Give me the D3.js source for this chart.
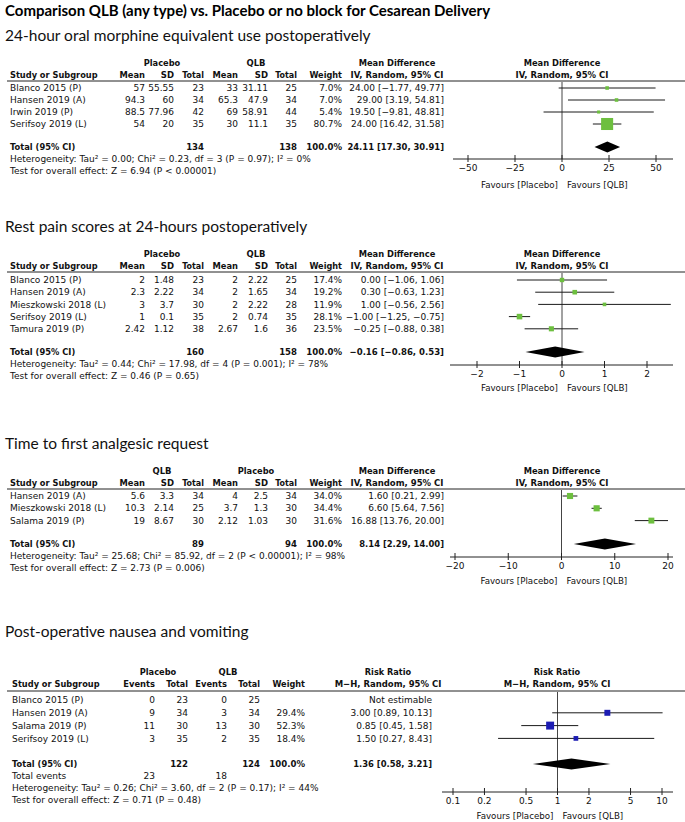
<!DOCTYPE html>
<html><head><meta charset="utf-8">
<script src="https://cdn.jsdelivr.net/npm/d3@7/dist/d3.min.js"></script>
<style>body{margin:0;background:#fff}svg{display:block}</style>
</head><body>
<script>
// ---------------- DATA ----------------
const mainTitle = "Comparison QLB (any type) vs. Placebo or no block for Cesarean Delivery";

// Panel 1: 24-hour oral morphine equivalent use
const p1Title = "24-hour oral morphine equivalent use postoperatively";
const p1Groups = ["Placebo", "QLB"];
const p1Studies = ["Blanco 2015 (P)", "Hansen 2019 (A)", "Irwin 2019 (P)", "Serifsoy 2019 (L)"];
const p1G1Mean = ["57", "94.3", "88.5", "54"];
const p1G1SD = ["55.55", "60", "77.96", "20"];
const p1G1N = [23, 34, 42, 35];
const p1G2Mean = ["33", "65.3", "69", "30"];
const p1G2SD = ["31.11", "47.9", "58.91", "11.1"];
const p1G2N = [25, 34, 44, 35];
const p1Weight = [7.0, 7.0, 5.4, 80.7];
const p1Est = [24.00, 29.00, 19.50, 24.00];
const p1Lo = [-1.77, 3.19, -9.81, 16.42];
const p1Hi = [49.77, 54.81, 48.81, 31.58];
const p1Total = [24.11, 17.30, 30.91];
const p1TotalN = [134, 138];
const p1Ticks = [-50, -25, 0, 25, 50];
const p1Het = ["Heterogeneity: Tau² = 0.00; Chi² = 0.23, df = 3 (P = 0.97); I² = 0%",
               "Test for overall effect: Z = 6.94 (P < 0.00001)"];

// Panel 2: rest pain scores
const p2Title = "Rest pain scores at 24-hours postoperatively";
const p2Groups = ["Placebo", "QLB"];
const p2Studies = ["Blanco 2015 (P)", "Hansen 2019 (A)", "Mieszkowski 2018 (L)", "Serifsoy 2019 (L)", "Tamura 2019 (P)"];
const p2G1Mean = ["2", "2.3", "3", "1", "2.42"];
const p2G1SD = ["1.48", "2.22", "3.7", "0.1", "1.12"];
const p2G1N = [23, 34, 30, 35, 38];
const p2G2Mean = ["2", "2", "2", "2", "2.67"];
const p2G2SD = ["2.22", "1.65", "2.22", "0.74", "1.6"];
const p2G2N = [25, 34, 28, 35, 36];
const p2Weight = [17.4, 19.2, 11.9, 28.1, 23.5];
const p2Est = [0.00, 0.30, 1.00, -1.00, -0.25];
const p2Lo = [-1.06, -0.63, -0.56, -1.25, -0.88];
const p2Hi = [1.06, 1.23, 2.56, -0.75, 0.38];
const p2Total = [-0.16, -0.86, 0.53];
const p2TotalN = [160, 158];
const p2Ticks = [-2, -1, 0, 1, 2];
const p2Het = ["Heterogeneity: Tau² = 0.44; Chi² = 17.98, df = 4 (P = 0.001); I² = 78%",
               "Test for overall effect: Z = 0.46 (P = 0.65)"];

// Panel 3: time to first analgesic request
const p3Title = "Time to first analgesic request";
const p3Groups = ["QLB", "Placebo"];
const p3Studies = ["Hansen 2019 (A)", "Mieszkowski 2018 (L)", "Salama 2019 (P)"];
const p3G1Mean = ["5.6", "10.3", "19"];
const p3G1SD = ["3.3", "2.14", "8.67"];
const p3G1N = [34, 25, 30];
const p3G2Mean = ["4", "3.7", "2.12"];
const p3G2SD = ["2.5", "1.3", "1.03"];
const p3G2N = [34, 30, 30];
const p3Weight = [34.0, 34.4, 31.6];
const p3Est = [1.60, 6.60, 16.88];
const p3Lo = [0.21, 5.64, 13.76];
const p3Hi = [2.99, 7.56, 20.00];
const p3Total = [8.14, 2.29, 14.00];
const p3TotalN = [89, 94];
const p3Ticks = [-20, -10, 0, 10, 20];
const p3Het = ["Heterogeneity: Tau² = 25.68; Chi² = 85.92, df = 2 (P < 0.00001); I² = 98%",
               "Test for overall effect: Z = 2.73 (P = 0.006)"];

// Panel 4: PONV
const p4Title = "Post-operative nausea and vomiting";
const p4Groups = ["Placebo", "QLB"];
const p4Studies = ["Blanco 2015 (P)", "Hansen 2019 (A)", "Salama 2019 (P)", "Serifsoy 2019 (L)"];
const p4G1Events = [0, 9, 11, 3];
const p4G1N = [23, 34, 30, 35];
const p4G2Events = [0, 3, 13, 2];
const p4G2N = [25, 34, 30, 35];
const p4Weight = [null, 29.4, 52.3, 18.4];
const p4Est = [null, 3.00, 0.85, 1.50];
const p4Lo = [null, 0.89, 0.45, 0.27];
const p4Hi = [null, 10.13, 1.58, 8.43];
const p4Total = [1.36, 0.58, 3.21];
const p4TotalN = [122, 124];
const p4TotalEvents = [23, 18];
const p4Ticks = [0.1, 0.2, 0.5, 1, 2, 5, 10];
const p4Het = ["Heterogeneity: Tau² = 0.26; Chi² = 3.60, df = 2 (P = 0.17); I² = 44%",
               "Test for overall effect: Z = 0.71 (P = 0.48)"];

// ---------------- DRAWING ----------------
const W = 685, H = 822;
const TF = "'DejaVu Sans', 'Lucida Grande', sans-serif";
const HF = "Lato, Calibri, 'Open Sans', sans-serif";
const FS = 9;
const GREEN = "#6dbf3f", BLUE = "#1c1cb3";

const svg = d3.select("body").append("svg").attr("width", W).attr("height", H);
svg.append("rect").attr("width", W).attr("height", H).attr("fill", "#fff");

const minus = s => s.replace(/-/g, "\u2212");
const f2 = v => minus(v.toFixed(2));
const ci = (e, l, h) => `${f2(e)} [${f2(l)}, ${f2(h)}]`;

function txt(g, x, y, s, opt = {}) {
  const t = g.append("text").attr("x", x).attr("y", y).attr("dy", "0.35em")
    .attr("font-family", opt.font || TF).attr("font-size", opt.size || FS)
    .attr("font-weight", "normal")
    .attr("text-anchor", opt.anchor || "start").attr("fill", "#111").text(s);
  if (opt.bold) {
    // Lucida-like bold: keep close to regular advance width
    const w = t.node().getComputedTextLength();
    t.attr("font-weight", "bold").attr("textLength", w * 1.04).attr("lengthAdjust", "spacingAndGlyphs");
  }
  return t;
}

svg.append("text").attr("x", 5).attr("y", 11).attr("dy", "0.35em")
  .attr("font-family", HF).attr("font-size", 15).attr("font-weight", "bold")
  .attr("fill", "#000").text(mainTitle);

function panel(c) {
  const g = svg.append("g");
  const L = c.lay;
  txt(g, 5, L.title, c.title, {font: HF, size: 15.5});
  const col = c.cols;
  txt(g, col.g1c, L.h1, c.groups[0], {bold: true, anchor: "middle"});
  txt(g, col.g2c, L.h1, c.groups[1], {bold: true, anchor: "middle"});
  txt(g, col.cic, L.h1, c.effName, {bold: true, anchor: "middle"});
  txt(g, c.plotC, L.h1, c.effName, {bold: true, anchor: "middle"});
  txt(g, col.study, L.h2, "Study or Subgroup", {bold: true});
  c.colNames.forEach((n, i) => txt(g, col.num[i], L.h2, n, {bold: true, anchor: "end"}));
  txt(g, col.w, L.h2, "Weight", {bold: true, anchor: "end"});
  txt(g, col.cic, L.h2, c.method, {bold: true, anchor: "middle"});
  txt(g, c.plotC, L.h2, c.method, {bold: true, anchor: "middle"});
  g.append("line").attr("x1", 7).attr("x2", W).attr("y1", L.line).attr("y2", L.line)
    .attr("stroke", "#222").attr("stroke-width", 1);

  const rowY = d3.scaleLinear().domain([0, 1]).range([L.row0, L.row0 + L.step]);
  const x = c.x;
  c.studies.forEach((s, i) => {
    const y = rowY(i);
    txt(g, col.study, y, s);
    c.values.forEach((arr, j) => txt(g, col.num[j], y, String(arr[i]), {anchor: "end"}));
    if (c.weight[i] != null) {
      txt(g, col.w, y, c.weight[i].toFixed(1) + "%", {anchor: "end"});
      txt(g, col.ci, y, ci(c.est[i], c.lo[i], c.hi[i]), {anchor: "end"});
    } else {
      txt(g, col.ci, y, "Not estimable", {anchor: "end"});
    }
  });
  txt(g, col.study, L.total, "Total (95% CI)", {bold: true});
  txt(g, col.num[c.totalCols[0]], L.total, String(c.totalN[0]), {bold: true, anchor: "end"});
  txt(g, col.num[c.totalCols[1]], L.total, String(c.totalN[1]), {bold: true, anchor: "end"});
  txt(g, col.w, L.total, "100.0%", {bold: true, anchor: "end"});
  txt(g, col.ci, L.total, ci(c.total[0], c.total[1], c.total[2]), {bold: true, anchor: "end"});
  let ly = L.total + 12;
  if (c.totalEvents) {
    txt(g, col.study, ly, "Total events");
    txt(g, col.num[0], ly, String(c.totalEvents[0]), {anchor: "end"});
    txt(g, col.num[2], ly, String(c.totalEvents[1]), {anchor: "end"});
    ly += 12;
  }
  txt(g, col.study, ly, c.het[0]);
  txt(g, col.study, ly + 12, c.het[1]);

  // plot
  g.append("line").attr("x1", x(c.nullV)).attr("x2", x(c.nullV))
    .attr("y1", L.line + 1).attr("y2", L.axis).attr("stroke", "#444").attr("stroke-width", 1);
  c.studies.forEach((s, i) => {
    if (c.est[i] == null) return;
    const y = rowY(i);
    g.append("line").attr("x1", x(c.lo[i])).attr("x2", x(c.hi[i]))
      .attr("y1", y).attr("y2", y).attr("stroke", "#1a1a1a").attr("stroke-width", 1);
    const sz = c.sq(c.weight[i]);
    g.append("rect").attr("x", x(c.est[i]) - sz / 2).attr("y", y - sz / 2)
      .attr("width", sz).attr("height", sz).attr("fill", c.color);
  });
  const dh = 5.5, dy = L.total;
  g.append("path").attr("d", `M${x(c.total[1])},${dy}L${x(c.total[0])},${dy - dh}L${x(c.total[2])},${dy}L${x(c.total[0])},${dy + dh}Z`)
    .attr("fill", "#000");
  const ax = g.append("g").attr("transform", `translate(0,${L.axis})`);
  ax.append("line").attr("x1", c.axisExt[0]).attr("x2", c.axisExt[1]).attr("stroke", "#222");
  c.ticks.forEach(t => {
    ax.append("line").attr("x1", x(t)).attr("x2", x(t)).attr("y1", -4).attr("y2", 3).attr("stroke", "#222");
    txt(ax, x(t), 9, minus(String(t)), {anchor: "middle", size: 9});
  });
  txt(g, x(c.nullV) - 4, L.fav, "Favours [Placebo]", {anchor: "end", size: 8.7});
  txt(g, x(c.nullV) + 5, L.fav, "Favours [QLB]", {anchor: "start", size: 8.7});
}

const mdCols = {study: 10, num: [145, 174, 204, 238, 268, 297], w: 342, ci: 444, cic: 397, g1c: 162, g2c: 256};
const mdNames = ["Mean", "SD", "Total", "Mean", "SD", "Total"];

panel({
  title: p1Title, groups: p1Groups, effName: "Mean Difference", method: "IV, Random, 95% CI",
  cols: mdCols, colNames: mdNames, studies: p1Studies,
  values: [p1G1Mean, p1G1SD, p1G1N, p1G2Mean, p1G2SD, p1G2N],
  weight: p1Weight, est: p1Est, lo: p1Lo, hi: p1Hi, total: p1Total, totalN: p1TotalN, totalCols: [2, 5],
  het: p1Het, ticks: p1Ticks, nullV: 0, plotC: 562, color: GREEN,
  x: d3.scaleLinear().domain([-50, 50]).range([468, 656]),
  axisExt: [453, 673],
  sq: d3.scaleSqrt().domain([0, 100]).range([0, 13.4]),
  lay: {title: 36, h1: 63, h2: 75, line: 81, row0: 88, step: 12, total: 147, axis: 159, fav: 185}
});

panel({
  title: p2Title, groups: p2Groups, effName: "Mean Difference", method: "IV, Random, 95% CI",
  cols: mdCols, colNames: mdNames, studies: p2Studies,
  values: [p2G1Mean, p2G1SD, p2G1N, p2G2Mean, p2G2SD, p2G2N],
  weight: p2Weight, est: p2Est, lo: p2Lo, hi: p2Hi, total: p2Total, totalN: p2TotalN, totalCols: [2, 5],
  het: p2Het, ticks: p2Ticks, nullV: 0, plotC: 562, color: GREEN,
  x: d3.scaleLinear().domain([-2, 2]).range([477, 647]),
  axisExt: [450, 673],
  sq: d3.scaleSqrt().domain([0, 100]).range([0, 10.5]),
  lay: {title: 227, h1: 254, h2: 266, line: 272, row0: 280, step: 12.2, total: 352, axis: 365, fav: 388}
});

panel({
  title: p3Title, groups: p3Groups, effName: "Mean Difference", method: "IV, Random, 95% CI",
  cols: mdCols, colNames: mdNames, studies: p3Studies,
  values: [p3G1Mean, p3G1SD, p3G1N, p3G2Mean, p3G2SD, p3G2N],
  weight: p3Weight, est: p3Est, lo: p3Lo, hi: p3Hi, total: p3Total, totalN: p3TotalN, totalCols: [2, 5],
  het: p3Het, ticks: p3Ticks, nullV: 0, plotC: 562, color: GREEN,
  x: d3.scaleLinear().domain([-20, 20]).range([455, 668]),
  axisExt: [450, 673],
  sq: d3.scaleSqrt().domain([0, 100]).range([0, 10.5]),
  lay: {title: 444, h1: 471, h2: 483, line: 489, row0: 496, step: 12.3, total: 544, axis: 557, fav: 581}
});

panel({
  title: p4Title, groups: p4Groups, effName: "Risk Ratio", method: "M\u2212H, Random, 95% CI",
  cols: {study: 12, num: [155, 188, 227, 260], w: 305, ci: 432, cic: 388, g1c: 158, g2c: 228},
  colNames: ["Events", "Total", "Events", "Total"], studies: p4Studies,
  values: [p4G1Events, p4G1N, p4G2Events, p4G2N],
  weight: p4Weight, est: p4Est, lo: p4Lo, hi: p4Hi, total: p4Total, totalN: p4TotalN, totalCols: [1, 3],
  totalEvents: p4TotalEvents,
  het: p4Het, ticks: p4Ticks, nullV: 1, plotC: 557, color: BLUE,
  x: d3.scaleLog().domain([0.1, 10]).range([453, 662]),
  axisExt: [442, 673],
  sq: d3.scaleSqrt().domain([0, 100]).range([0, 11]),
  lay: {title: 632, h1: 672, h2: 684, line: 691, row0: 700, step: 12.8, total: 764, axis: 792, fav: 816}
});
</script>
</body></html>
